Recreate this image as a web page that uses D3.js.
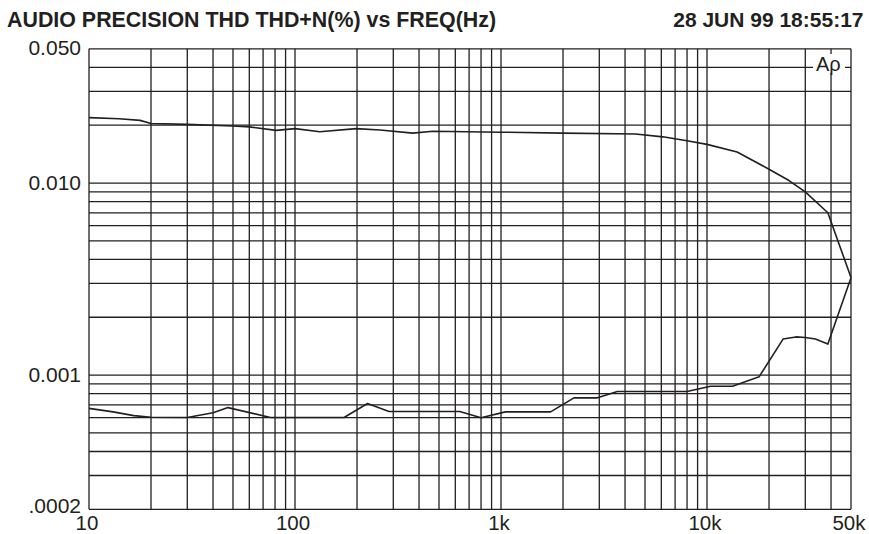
<!DOCTYPE html>
<html>
<head>
<meta charset="utf-8">
<script src="https://cdn.jsdelivr.net/npm/d3@7"></script>
<style>
  html, body { margin: 0; padding: 0; background: #fff; }
  svg { display: block; }
  text { font-family: "Liberation Sans", Arial, Helvetica, sans-serif; fill: #231f20; }
</style>
</head>
<body>
<svg id="chart" width="869" height="534"></svg>
<script>
// ---- data ----
const titleText = "AUDIO PRECISION THD THD+N(%) vs FREQ(Hz)";
const stampText = "28 JUN 99 18:55:17";

// upper curve (THD+N) frequency (Hz) and level (%)
const upperFreq = [10, 14, 17.7, 20, 30, 50, 60, 81, 100, 132, 198, 259, 373, 467, 1000, 2000, 4500, 6100, 8000, 10000, 14000, 20000, 25000, 30000, 38600, 50000];
const upperVal  = [0.0219, 0.0216, 0.0212, 0.0204, 0.0202, 0.0198, 0.0196, 0.0188, 0.0192, 0.0185, 0.0192, 0.0189, 0.0182, 0.0186, 0.0184, 0.0182, 0.0180, 0.0174, 0.0166, 0.0159, 0.0145, 0.0118, 0.0103, 0.0090, 0.0070, 0.00322];

// lower curve (THD) frequency (Hz) and level (%)
const lowerFreq = [10, 13.1, 16.5, 20, 30, 40, 47.3, 76, 173, 225, 286, 630, 800, 1050, 1740, 2260, 2940, 3670, 8000, 10400, 13300, 17900, 23400, 27000, 30000, 33600, 38600, 50000];
const lowerVal  = [0.000671, 0.000643, 0.000615, 0.000603, 0.000601, 0.000636, 0.000677, 0.000601, 0.000601, 0.000711, 0.000646, 0.000646, 0.000599, 0.000643, 0.000643, 0.000761, 0.000761, 0.000821, 0.000821, 0.000874, 0.000874, 0.000979, 0.00154, 0.00158, 0.00157, 0.00154, 0.00145, 0.00321];

// grid lines and tick labels
const xGrid = [10,20,30,40,50,60,70,80,90,100,200,300,400,500,600,700,800,900,1000,2000,3000,4000,5000,6000,7000,8000,9000,10000,20000,30000,40000,50000];
const yGrid = [0.05,0.04,0.03,0.02,0.01,0.009,0.008,0.007,0.006,0.005,0.004,0.003,0.002,0.001,0.0009,0.0008,0.0007,0.0006,0.0005,0.0004,0.0003,0.0002];
const xTickVals = [10, 100, 1000, 10000, 50000];
const xTickLabels = ["10", "100", "1k", "10k", "50k"];
const yTickVals = [0.05, 0.01, 0.001, 0.0002];
const yTickLabels = ["0.050", "0.010", "0.001", ".0002"];

// ---- drawing ----
const ink = "#231f20";
const svg = d3.select("#chart");
const L = 89, R = 851, T = 48.8, B = 509.3;

const x = d3.scaleLog().domain([10, 50000]).range([L, R]);
const y = d3.scaleLog().domain([0.0002, 0.05]).range([B, T]);

// titles
svg.append("text").attr("x", 7).attr("y", 26.5)
  .attr("font-size", 21.4).attr("font-weight", "bold").text(titleText);
svg.append("text").attr("x", 863.5).attr("y", 26.5).attr("text-anchor", "end")
  .attr("font-size", 21).attr("font-weight", "bold").text(stampText);

// grid
const g = svg.append("g");
g.selectAll("line.v").data(xGrid).join("line").attr("class", "v")
  .attr("x1", d => x(d)).attr("x2", d => x(d)).attr("y1", T).attr("y2", B)
  .attr("stroke", ink).attr("stroke-width", 1.3);
g.selectAll("line.h").data(yGrid).join("line").attr("class", "h")
  .attr("x1", L).attr("x2", R).attr("y1", d => y(d)).attr("y2", d => y(d))
  .attr("stroke", ink).attr("stroke-width", 1.3);

// logo
svg.append("rect").attr("x", 813).attr("y", 54).attr("width", 32).attr("height", 19).attr("fill", "#fff");
svg.append("text").attr("x", 816).attr("y", 70.5).attr("font-size", 20).text("A\u03c1");

// curves
const line = d3.line().x(d => x(d[0])).y(d => y(d[1]));
svg.append("path").datum(d3.zip(upperFreq, upperVal)).attr("d", line)
  .attr("fill", "none").attr("stroke", ink).attr("stroke-width", 1.6).attr("stroke-linejoin", "round");
svg.append("path").datum(d3.zip(lowerFreq, lowerVal)).attr("d", line)
  .attr("fill", "none").attr("stroke", ink).attr("stroke-width", 1.6).attr("stroke-linejoin", "round");

// axes labels
svg.selectAll("text.yl").data(yTickVals).join("text").attr("class", "yl")
  .attr("x", 81).attr("y", (d, i) => y(d) + (i === yTickVals.length - 1 ? 4 : 6.5))
  .attr("text-anchor", "end").attr("font-size", 21).text((d, i) => yTickLabels[i]);
svg.selectAll("text.xl").data(xTickVals).join("text").attr("class", "xl")
  .attr("x", d => x(d) - 2).attr("y", 529.5)
  .attr("text-anchor", "middle").attr("font-size", 20.5).text((d, i) => xTickLabels[i]);
</script>
</body>
</html>
